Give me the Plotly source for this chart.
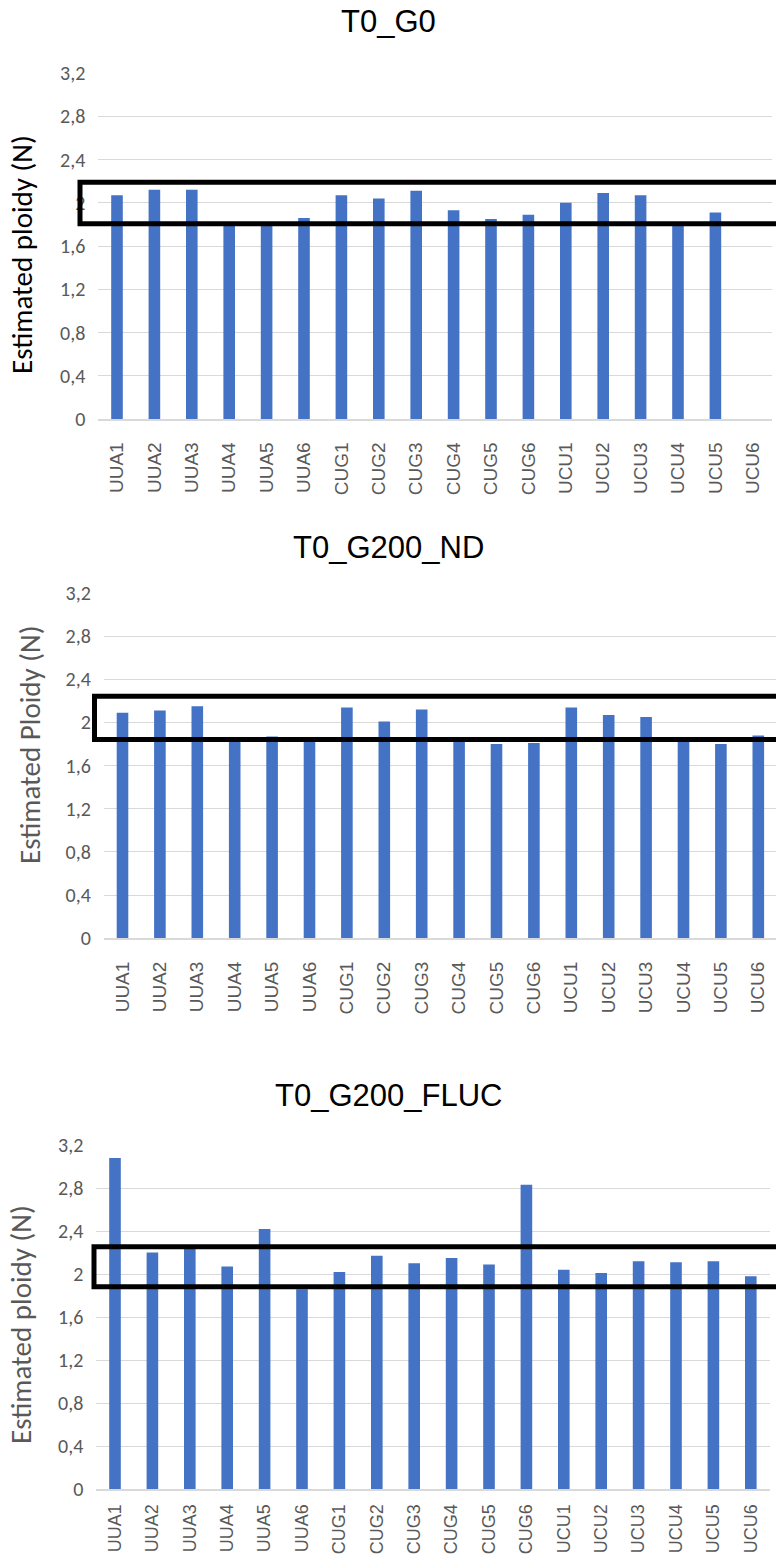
import plotly.graph_objects as go

categories = ["UUA1", "UUA2", "UUA3", "UUA4", "UUA5", "UUA6",
              "CUG1", "CUG2", "CUG3", "CUG4", "CUG5", "CUG6",
              "UCU1", "UCU2", "UCU3", "UCU4", "UCU5", "UCU6"]

t0_g0 = [2.07, 2.12, 2.12, 1.81, 1.80, 1.86,
         2.07, 2.04, 2.11, 1.93, 1.85, 1.89,
         2.00, 2.09, 2.07, 1.82, 1.91, 0]

t0_g200_nd = [2.09, 2.11, 2.15, 1.84, 1.87, 1.84,
              2.14, 2.01, 2.12, 1.84, 1.80, 1.81,
              2.14, 2.07, 2.05, 1.84, 1.80, 1.88]

t0_g200_fluc = [3.08, 2.20, 2.25, 2.07, 2.42, 1.86,
                2.02, 2.17, 2.10, 2.15, 2.09, 2.83,
                2.04, 2.01, 2.12, 2.11, 2.12, 1.98]

titles = ["T0_G0", "T0_G200_ND", "T0_G200_FLUC"]
y_titles = ["Estimated ploidy (N)", "Estimated Ploidy (N)", "Estimated ploidy (N)"]
highlight_low = [1.805, 1.843, 1.883]
highlight_high = [2.19, 2.243, 2.255]

series = [t0_g0, t0_g200_nd, t0_g200_fluc]

W, H = 776, 1560
# pixel layouts: (left, right, top, bottom)
panels = [
    (98.3, 771.5, 73.0, 419.0),
    (103.8, 776.0, 593.0, 938.3),
    (96.3, 769.6, 1145.0, 1489.3),
]
title_y = [22, 547, 1095]
ytitle_x = [22, 30, 21]
ytitle_cy = [255, 745, 1325]
ytitle_color = ["#000000", "#595959", "#595959"]
box_left_px = [80, 94.5, 94]
label_standoff = [14, 14, 6]
label_size = [19, 19, 18]

BAR = "#4472C4"
GRID = "#d9d9d9"
TICK = "#595959"
CAL = "Carlito, Lato, Liberation Sans"

fig = go.Figure()
layout = dict(width=W, height=H, margin=dict(l=0, r=0, t=0, b=0, autoexpand=False),
              paper_bgcolor="white", plot_bgcolor="white",
              showlegend=False, separators=",.", bargap=0.69)
annotations = []
shapes = []

for i, (vals, (l, r, t, b)) in enumerate(zip(series, panels)):
    n = i + 1
    xa = "x" if n == 1 else f"x{n}"
    ya = "y" if n == 1 else f"y{n}"
    fig.add_trace(go.Bar(x=categories, y=vals, marker_color=BAR,
                         marker_line_width=0, xaxis=xa, yaxis=ya))
    width_px = r - l
    ncat = width_px / 37.4
    layout[f"xaxis{'' if n == 1 else n}"] = dict(
        domain=[l / W, r / W], anchor=ya, type="category", automargin=False,
        range=[-0.5, -0.5 + ncat],
        tickangle=-90, tickfont=dict(family="Liberation Sans, Arial", size=label_size[i], color=TICK),
        showline=True, linecolor=GRID, linewidth=1.5, showgrid=False,
        ticks="", fixedrange=True, ticklabelstandoff=label_standoff[i])
    layout[f"yaxis{'' if n == 1 else n}"] = dict(
        domain=[1 - b / H, 1 - t / H], anchor=xa, automargin=False,
        range=[0, 3.2], dtick=0.4, tick0=0,
        showgrid=True, gridcolor=GRID, gridwidth=1,
        zeroline=False, showline=False, ticks="",
        tickfont=dict(family=CAL, size=20, color=TICK),
        ticklabelstandoff=12)
    annotations.append(dict(text=titles[i], x=388 / W, y=1 - title_y[i] / H,
                            xref="paper", yref="paper", showarrow=False,
                            xanchor="center", yanchor="middle",
                            font=dict(family="Liberation Sans, Arial", size=31, color="#000000")))
    annotations.append(dict(text=y_titles[i], x=ytitle_x[i] / W, y=1 - ytitle_cy[i] / H,
                            xref="paper", yref="paper", showarrow=False, textangle=-90,
                            xanchor="center", yanchor="middle",
                            font=dict(family=CAL, size=29, color=ytitle_color[i])))
    shapes.append(dict(type="rect", xref=f"{xa} domain", yref=ya,
                       x0=(box_left_px[i] - l) / width_px, x1=1.1,
                       y0=highlight_low[i], y1=highlight_high[i],
                       line=dict(color="black", width=5), fillcolor="rgba(0,0,0,0)",
                       layer="above"))

layout["annotations"] = annotations
layout["shapes"] = shapes
fig.update_layout(**layout)
fig.write_html("out.html")
